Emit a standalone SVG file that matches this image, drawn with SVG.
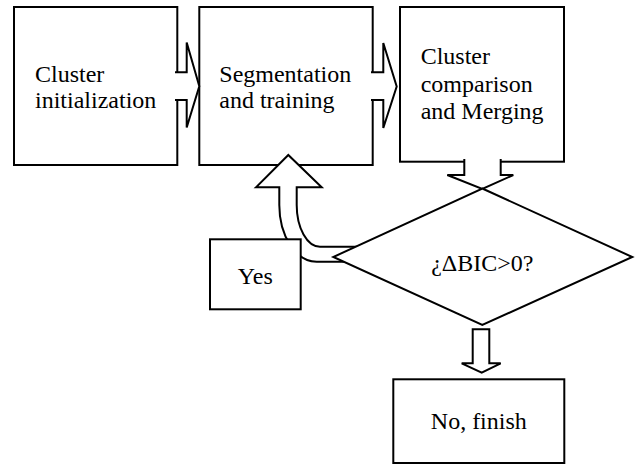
<svg xmlns="http://www.w3.org/2000/svg" width="635" height="464" viewBox="0 0 635 464">
<style>
.box{fill:#fff;stroke:#000;stroke-width:2}
.arr{fill:#fff;stroke:#000;stroke-width:2;stroke-linejoin:miter}
text{font-family:"Liberation Serif","Times New Roman",serif;font-size:24px;fill:#000}
</style>
<rect width="635" height="464" fill="#fff"/>
<g id="n1">
<rect class="box" x="14" y="7" width="163.3" height="158"/>
<text x="35" y="81.7">Cluster</text>
<text x="35" y="108.3">initialization</text>
</g>
<g id="n2">
<rect class="box" x="199.3" y="7" width="173.4" height="158"/>
<text x="219.3" y="81.7">Segmentation</text>
<text x="219.3" y="108.3">and training</text>
</g>
<g id="n3">
<rect class="box" x="400" y="7" width="164" height="154.7"/>
<text x="420.7" y="64.3">Cluster</text>
<text x="420.7" y="91.7">comparison</text>
<text x="420.7" y="119">and Merging</text>
</g>
<g id="connectors">
<path class="arr" d="M175,72.3 L186.7,72.3 L186.7,42.5 L199.3,86.2 L186.7,127.5 L186.7,100 L175,100"/>
<path class="arr" d="M371,72.3 L383.3,72.3 L383.3,43 L396.7,86.5 L383.3,128 L383.3,100 L371,100"/>
<path class="arr" d="M464.3,159 L464.3,175 L447.3,175 L482.3,189 L513.3,175 L500.7,175 L500.7,159"/>
<path class="arr" d="M348,261.7 L316.7,261.7 A37.4,56.7 0 0 1 279.3,205 L279.3,187.3 L256,187.3 L288.3,155 L321.7,187.3 L296.7,187.3 L296.7,205 A23.3,41.7 0 0 0 320,246.7 L362,246.7 Z"/>
<path class="arr" d="M472.7,329.3 L472.7,363.3 L461.7,363.3 L481.7,372.7 L500.7,363.3 L489.3,363.3 L489.3,329.3 Z"/>
</g>
<g id="n4">
<polygon class="box" points="482.3,188.5 632.3,257 482.3,325 333.3,257"/>
<text x="482.3" y="270.5" text-anchor="middle">¿ΔBIC&gt;0?</text>
</g>
<g id="n5">
<rect class="box" x="210" y="239.3" width="90.7" height="70"/>
<text x="255.3" y="284.3" text-anchor="middle">Yes</text>
</g>
<g id="n6">
<rect class="box" x="393.3" y="379.3" width="171" height="83.7"/>
<text x="478.8" y="429" text-anchor="middle">No, finish</text>
</g>
</svg>
